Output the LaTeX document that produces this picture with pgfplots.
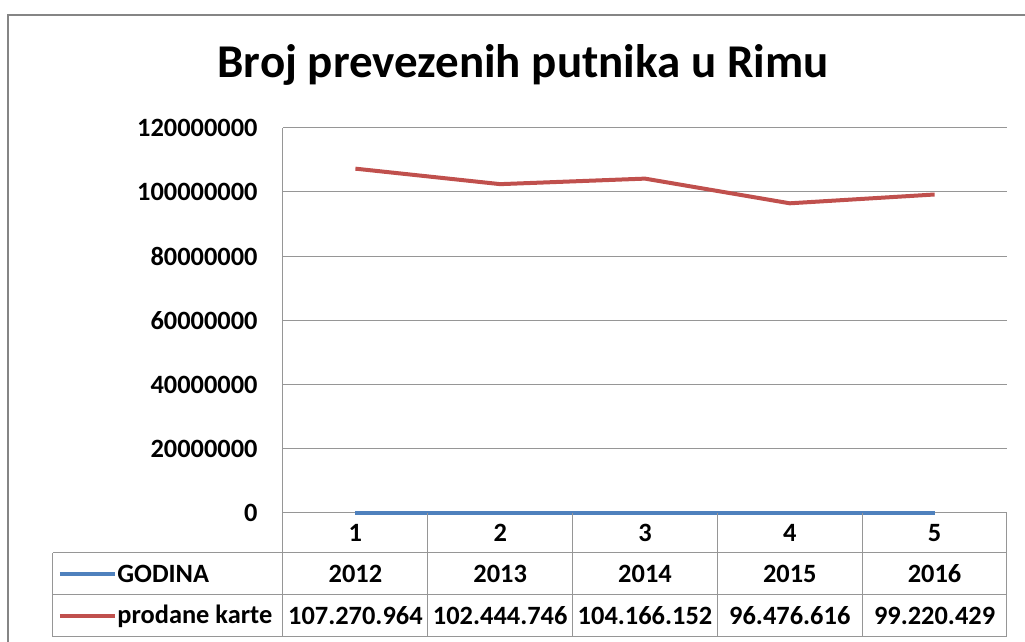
\documentclass[border=0pt]{standalone}
\usepackage{fontspec}
\setmainfont{Carlito}
\usepackage{pgfplots}
\pgfplotsset{compat=1.18}

\definecolor{excelblue}{HTML}{4F81BD}
\definecolor{excelred}{HTML}{C0504D}
\definecolor{gridgray}{HTML}{969696}
\definecolor{framegray}{HTML}{858585}
\newcommand{\lbl}{\bfseries\fontsize{13.2}{15}\selectfont}

\begin{document}
\begin{tikzpicture}
% picture size: 1px = 0.5pt, axis box lower left at (0,0)
\useasboundingbox (-141.5pt,-64.5pt) rectangle (371pt,256.5pt);
\draw[framegray, line width=1pt] (-137.5pt,-64.5pt) -- (-137.5pt,249pt) -- (371pt,249pt);
\node[font=\bfseries\fontsize{23.5}{27}\selectfont, anchor=base] at (120pt,217.5pt) {Broj prevezenih putnika u Rimu};

\begin{axis}[
  scale only axis,
  width=362pt, height=192.6pt,
  at={(0,0)}, anchor=south west,
  xmin=0.5, xmax=5.5,
  ymin=0, ymax=120000000,
  ytick={0,20000000,40000000,60000000,80000000,100000000,120000000},
  xtick={1,2,3,4,5},
  xticklabels={1,2,3,4,5},
  scaled y ticks=false,
  /pgf/number format/fixed,
  /pgf/number format/1000 sep={},
  /pgf/number format/assume math mode=true,
  ymajorgrids,
  grid style={gridgray, line width=0.5pt},
  axis lines*=left,
  axis line style={gridgray, line width=0.5pt, -},
  major tick length=0pt,
  tick style={draw=none},
  yticklabel style={font=\lbl, anchor=east, inner sep=0pt, xshift=-12.5pt},
  xticklabel style={font=\lbl, anchor=center, inner sep=0pt, yshift=-10pt},
  clip=false,
]
% GODINA
\addplot[excelblue, line width=2pt, mark=none] coordinates {
  (1,2012)(2,2013)(3,2014)(4,2015)(5,2016)
};
% prodane karte
\addplot[excelred, line width=2pt, mark=none] coordinates {
  (1,107270964)(2,102444746)(3,104166152)(4,96476616)(5,99220429)
};

% data table rows
\addplot[only marks, mark size=0pt, mark options={draw=none, fill=none},
  point meta=explicit symbolic, nodes near coords,
  nodes near coords style={anchor=center, inner sep=0pt, yshift=-30.5pt, font=\lbl, text=black}]
  coordinates {(1,0)[2012] (2,0)[2013] (3,0)[2014] (4,0)[2015] (5,0)[2016]};
\addplot[only marks, mark size=0pt, mark options={draw=none, fill=none},
  point meta=explicit symbolic, nodes near coords,
  nodes near coords style={anchor=center, inner sep=0pt, yshift=-51.5pt, font=\lbl, text=black}]
  coordinates {(1,0)[107.270.964] (2,0)[102.444.746] (3,0)[104.166.152] (4,0)[96.476.616] (5,0)[99.220.429]};

% table grid
\draw[gridgray, line width=0.5pt] ([xshift=-115pt,yshift=-20pt]rel axis cs:0,0) -- ([yshift=-20pt]rel axis cs:1,0);
\draw[gridgray, line width=0.5pt] ([xshift=-115pt,yshift=-41pt]rel axis cs:0,0) -- ([yshift=-41pt]rel axis cs:1,0);
\draw[gridgray, line width=0.5pt] ([xshift=-115pt,yshift=-62pt]rel axis cs:0,0) -- ([yshift=-62pt]rel axis cs:1,0);
\draw[gridgray, line width=0.5pt] ([xshift=-115pt,yshift=-20pt]rel axis cs:0,0) -- ([xshift=-115pt,yshift=-62pt]rel axis cs:0,0);
\draw[gridgray, line width=0.5pt] (rel axis cs:0,0) -- ([yshift=-62pt]rel axis cs:0,0);
\draw[gridgray, line width=0.5pt] (axis cs:1.5,0) -- ([yshift=-62pt]axis cs:1.5,0);
\draw[gridgray, line width=0.5pt] (axis cs:2.5,0) -- ([yshift=-62pt]axis cs:2.5,0);
\draw[gridgray, line width=0.5pt] (axis cs:3.5,0) -- ([yshift=-62pt]axis cs:3.5,0);
\draw[gridgray, line width=0.5pt] (axis cs:4.5,0) -- ([yshift=-62pt]axis cs:4.5,0);
\draw[gridgray, line width=0.5pt] (rel axis cs:1,0) -- ([yshift=-62pt]rel axis cs:1,0);

% legend keys in table
\draw[excelblue, line width=2pt] ([xshift=-111.5pt,yshift=-30.5pt]rel axis cs:0,0) -- ([xshift=-84pt,yshift=-30.5pt]rel axis cs:0,0);
\node[anchor=west, inner sep=0pt, font=\lbl] at ([xshift=-83pt,yshift=-30.5pt]rel axis cs:0,0) {GODINA};
\draw[excelred, line width=2pt] ([xshift=-111.5pt,yshift=-51.5pt]rel axis cs:0,0) -- ([xshift=-84pt,yshift=-51.5pt]rel axis cs:0,0);
\node[anchor=west, inner sep=0pt, font=\lbl] at ([xshift=-83pt,yshift=-51.5pt]rel axis cs:0,0) {prodane karte};
\end{axis}
\end{tikzpicture}
\end{document}
